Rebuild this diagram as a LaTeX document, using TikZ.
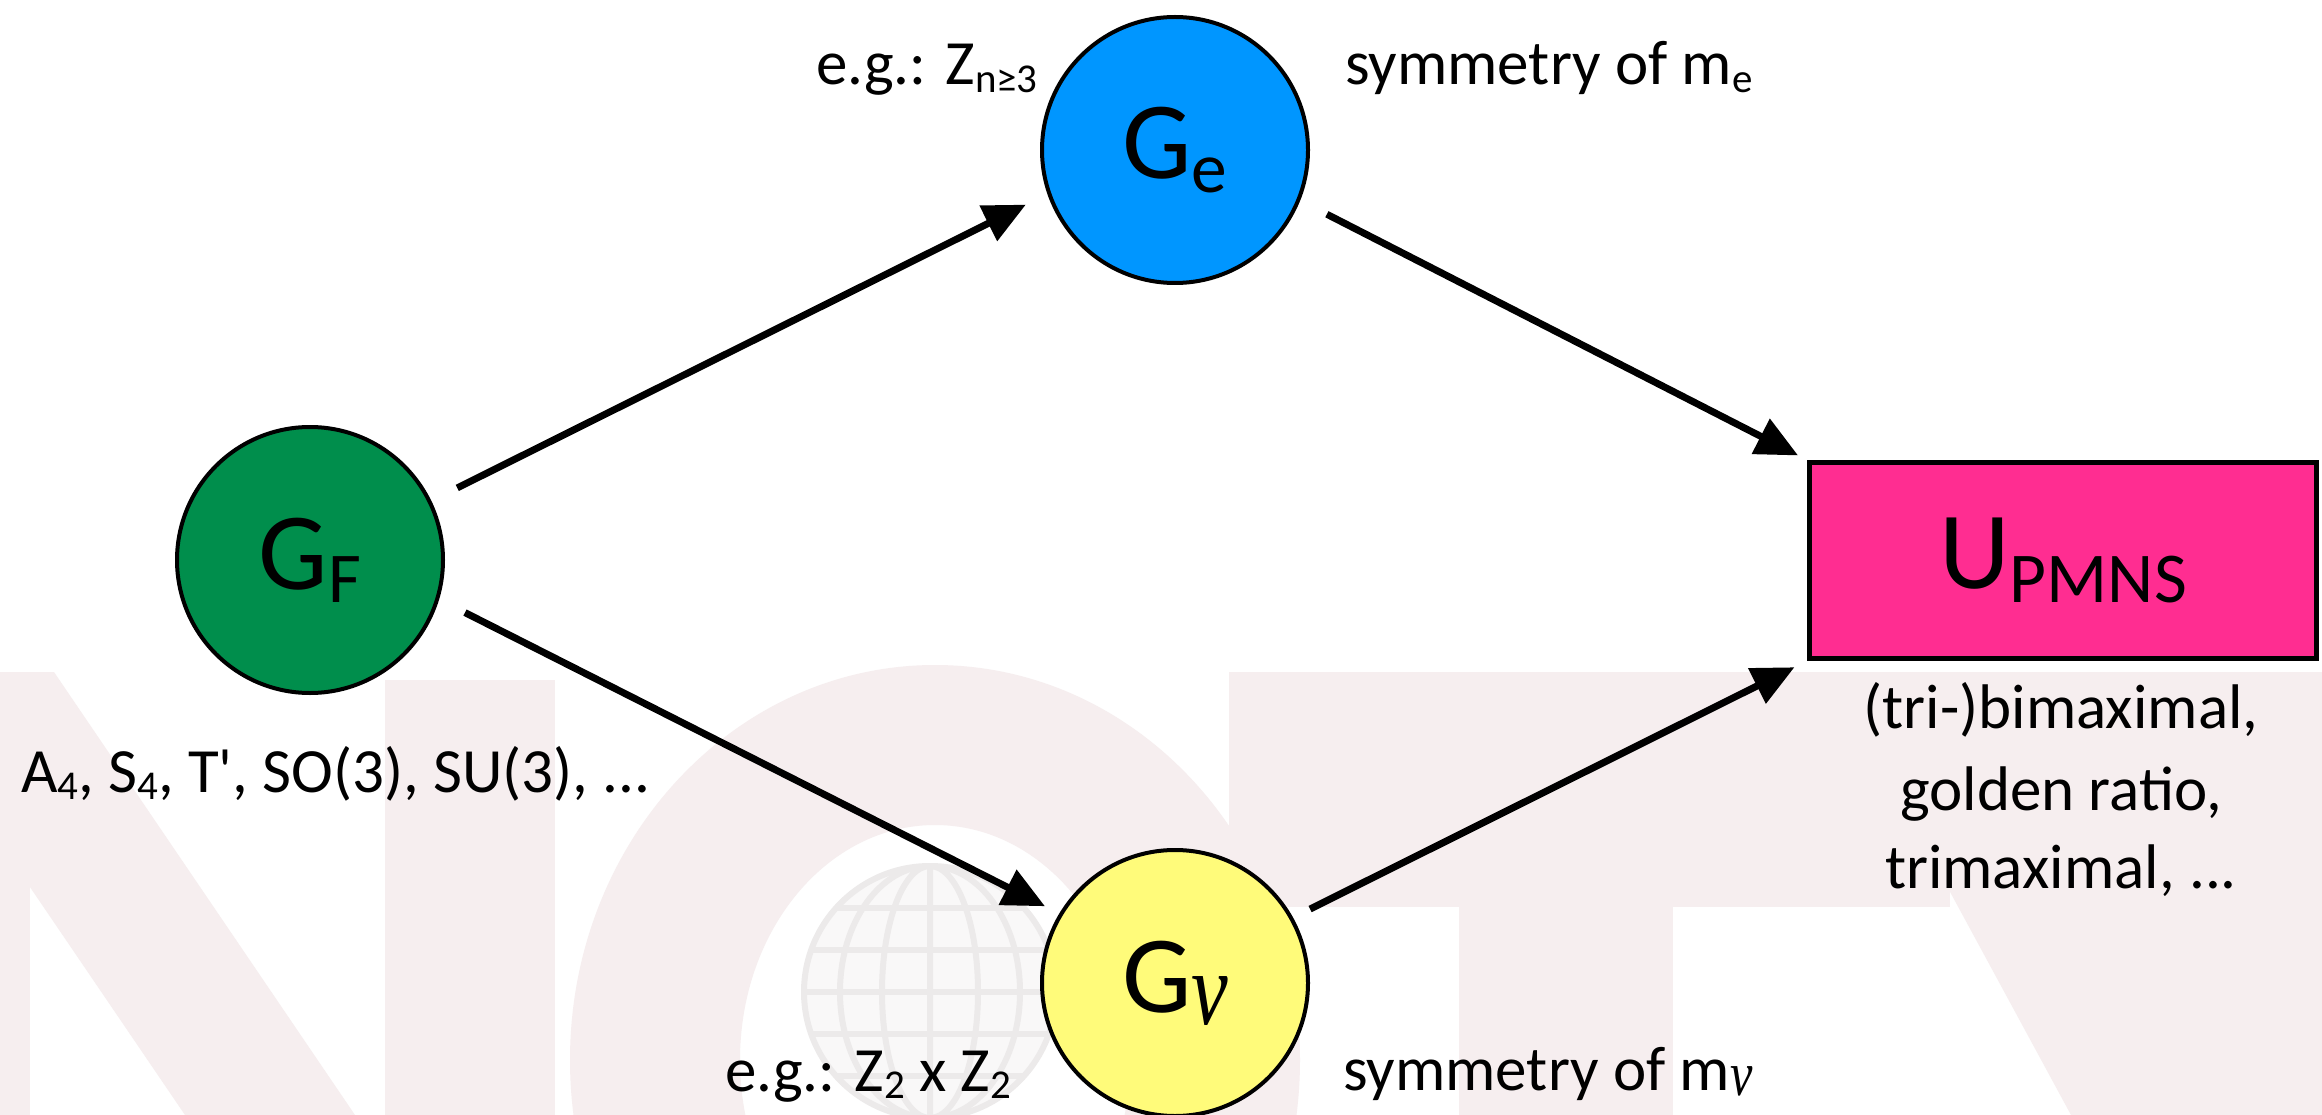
\documentclass[tikz,border=0pt]{standalone}
\usepackage{fontspec}
\setmainfont{Carlito}[Ligatures=TeXOff]
\newfontfamily\grk{Liberation Serif}
\usepackage{graphicx}
\usetikzlibrary{arrows.meta}
\definecolor{gfgreen}{RGB}{0,142,76}
\definecolor{geblue}{RGB}{0,150,255}
\definecolor{gnuyellow}{RGB}{255,251,122}
\definecolor{upink}{RGB}{255,45,145}
\definecolor{wm}{RGB}{246,238,239}
\definecolor{globefill}{RGB}{249,248,248}
\definecolor{globeline}{RGB}{236,234,234}
\newcommand\lsub[1]{\raisebox{-0.12em}{\scalebox{0.65}{#1}}}
\newcommand\nusym{{\grk\itshape ν}}
\begin{document}
\begin{tikzpicture}[x=1pt,y=-1pt,
  grp/.style={circle,draw=black,line width=4pt,minimum size=266pt,inner sep=0pt,
    font=\fontsize{110}{130}\selectfont},
  lbl/.style={anchor=base west,inner sep=0pt,font=\fontsize{63}{76}\selectfont},
  rlbl/.style={anchor=base,inner sep=0pt,font=\fontsize{63}{76}\selectfont},
  arr/.style={line width=7pt,-{Triangle[length=42pt,width=38pt]}}]
\useasboundingbox (0,0) rectangle (2322,1115);
\fill[white] (0,0) rectangle (2322,1115);
% faint watermark
\begin{scope}
\clip (0,0) rectangle (2322,1115);
\fill[wm] (0,672) -- (54,672) -- (355,1115) -- (185,1115) -- (0,843) -- cycle;
\fill[wm] (0,672) rectangle (30,1115);
\fill[wm] (385,680) rectangle (555,1115);
\fill[wm,even odd rule] (935,1060) ellipse [x radius=365, y radius=395]
                        (935,1060) ellipse [x radius=195, y radius=235];
\fill[wm] (1229,672) rectangle (1950,907);
\fill[wm] (1459,907) rectangle (1673,1115);
\fill[wm] (1950,672) -- (2322,672) -- (2322,1115) -- (2071,1115) -- (1949,890) -- cycle;
\fill[globefill] (930,992) circle[radius=126];
\begin{scope}
\clip (930,992) circle[radius=126];
\draw[globeline,line width=6pt] (930,992) ellipse [x radius=90, y radius=126]
  (930,992) ellipse [x radius=48, y radius=126] (930,866) -- (930,1118);
\foreach \dy in {-84,-42,0,42,84} \draw[globeline,line width=6pt] (800,992+\dy) -- (1060,992+\dy);
\end{scope}
\draw[globeline,line width=6pt] (930,992) circle[radius=126];
\end{scope}
% nodes
\node[grp,fill=gfgreen] (gf) at (310,560) {G\lsub{F}};
\node[grp,fill=geblue] (ge) at (1175,150) {G\lsub{e}};
\node[grp,fill=gnuyellow] (gnu) at (1175,983) {G\raisebox{-0.11em}{\scalebox{0.75}[0.95]{\nusym}}};
\node[draw=black,line width=5pt,fill=upink,minimum width=507pt,minimum height=196pt,
  inner sep=0pt,font=\fontsize{110}{130}\selectfont] (u) at (2063,560.5) {U\lsub{PMNS}};
% labels
\node[lbl] (lze) at (816,85) {e.g.: Z\lsub{n≥3}};
\node[lbl] (lme) at (1345,85) {symmetry of m\lsub{e}};
\node[lbl] (lzn) at (725,1091) {e.g.: Z\lsub{2} x Z\lsub{2}};
\node[lbl] (lmn) at (1343,1090) {symmetry of m\raisebox{-0.08em}{\scalebox{0.8}[1.0]{\nusym}}};
\node[lbl] (lgf) at (21,792) {A\lsub{4}, S\lsub{4}, T', SO(3), SU(3), ...};
\node[rlbl] (r1) at (2061,728) {(tri-)bimaximal,};
\node[rlbl] (r2) at (2061,810) {golden ratio,};
\node[rlbl] (r3) at (2061,888) {trimaximal, ...};
% arrows
\draw[arr,shorten <=29pt,shorten >=24pt] (gf.26) -- (ge.199);
\draw[arr,shorten <=30pt,shorten >=10pt] (ge.338) -- (u.north west);
\draw[arr,shorten <=29pt,shorten >=16pt] (gf.343) -- (gnu.149);
\draw[arr,shorten <=19pt,shorten >=14pt] (gnu.29) -- (u.south west);
\end{tikzpicture}
\end{document}
